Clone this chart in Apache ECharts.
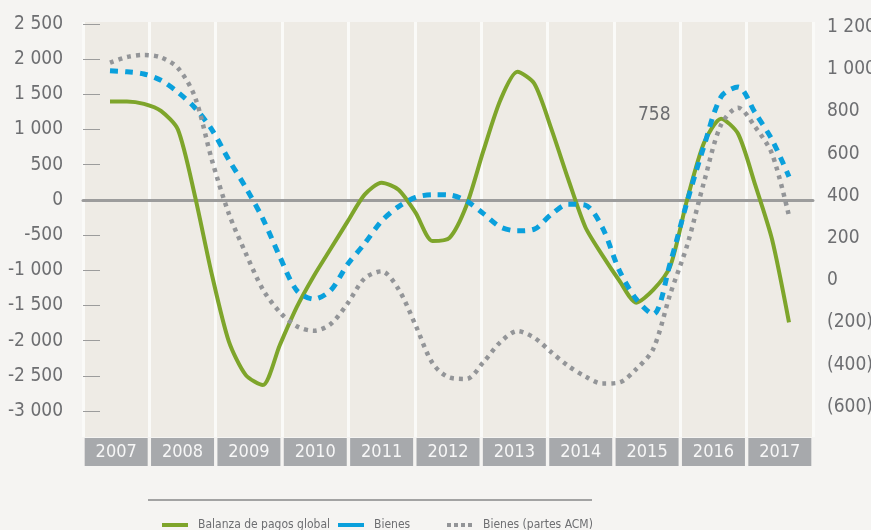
<!DOCTYPE html>
<html>
<head>
<meta charset="utf-8">
<script src="https://cdn.jsdelivr.net/npm/echarts@6/dist/echarts.min.js"></script>
<style>
html,body{margin:0;padding:0;background:#F5F4F2;}
#c{width:871px;height:530px;}
</style>
</head>
<body>
<div id="c"></div>
<script>
// ---- DATA ----
const years = ['2007','2008','2009','2010','2011','2012','2013','2014','2015','2016','2017'];
const quarterNames = ['T1','T2','T3','T4'];
const leftTicks = {min: -3000, max: 2500, step: 500};
const rightTicks = {min: -600, max: 1200, step: 200};
const peakLabel = '758';
const seriesNames = ['Balanza de pagos global', 'Bienes', 'Bienes (partes ACM)'];
// quarterly readings, 2007-T1 .. 2017-T1
const balanzaGlobal = [1400,1400,1365,1265,1000,60,-1060,-2010,-2490,-2630,-2065,-1525,-1085,-695,-305,75,245,145,-180,-585,-540,-80,700,1420,1820,1650,1010,290,-385,-785,-1145,-1460,-1280,-945,5,815,1155,940,220,-560,-1740];
const bienes = [1835,1820,1790,1700,1530,1310,1000,570,175,-265,-805,-1285,-1410,-1285,-915,-620,-300,-95,35,75,70,-15,-195,-385,-440,-415,-205,-60,-75,-390,-1000,-1410,-1625,-900,-25,770,1465,1605,1240,855,330];
const bienesACM = [1950,2030,2060,2025,1875,1465,570,-195,-760,-1270,-1595,-1795,-1860,-1765,-1470,-1115,-1015,-1270,-1780,-2320,-2525,-2545,-2305,-2020,-1865,-1960,-2165,-2360,-2510,-2610,-2595,-2405,-2120,-1340,-645,260,1070,1310,1040,655,-230];

const quarters = [];
years.forEach(function (y, i) {
  if (i < years.length - 1) { quarterNames.forEach(function (q) { quarters.push(y + '-' + q); }); }
  else { quarters.push(y + '-' + quarterNames[0]); }
});

// ---- STYLE ----
const FONT = '"Liberation Sans Narrow", "DejaVu Sans Condensed", "Noto Sans", sans-serif';
const LABEL = '#6D6E71';
const GREEN = '#7EA52B';
const BLUE = '#0AA0DC';
const GREY = '#939598';

function fmtThousands(v) {
  const a = Math.abs(v);
  let s = String(a);
  if (a >= 1000) s = Math.floor(a / 1000) + ' ' + String(a % 1000).padStart(3, '0');
  return s;
}

const chart = echarts.init(document.getElementById('c'), null, {renderer: 'canvas'});
const L = 83, R = 871 - 813;
const OB = {outerBoundsMode: 'none', containLabel: false};
chart.setOption({
  backgroundColor: '#F5F4F2',
  animation: false,
  grid: [
    Object.assign({left: L, right: R, top: 22, height: 415, show: true, backgroundColor: '#EEEBE5', borderWidth: 0}, OB),
    Object.assign({left: L, right: R, top: 24, height: 387}, OB),
    Object.assign({left: L, right: R, top: 27, height: 380}, OB),
    Object.assign({left: 110, right: 82, top: 24, height: 387}, OB)
  ],
  xAxis: [
    {gridIndex: 0, type: 'category', data: years, boundaryGap: true,
      axisLine: {show: false}, axisTick: {show: false},
      splitLine: {show: true, interval: 0, lineStyle: {color: '#FAFAF8', width: 3}},
      axisLabel: {interval: 0, margin: 1, color: '#F7F7F7', fontFamily: FONT, fontSize: 18,
        backgroundColor: '#A7A9AC', width: 63, height: 28, lineHeight: 28, align: 'center', verticalAlign: 'top', padding: 0}},
    {gridIndex: 1, type: 'category', data: years, boundaryGap: true,
      axisLine: {show: true, onZero: true, lineStyle: {color: '#9C9C9C', width: 3}},
      axisTick: {show: false}, axisLabel: {show: false}, splitLine: {show: false}},
    {gridIndex: 2, type: 'category', data: years, show: false},
    {gridIndex: 3, type: 'category', data: quarters, boundaryGap: false, show: false}
  ],
  yAxis: [
    {gridIndex: 0, type: 'value', show: false},
    {gridIndex: 1, type: 'value', min: leftTicks.min, max: leftTicks.max, interval: leftTicks.step,
      axisLine: {show: false}, splitLine: {show: false},
      axisTick: {show: true, inside: true, length: 17, lineStyle: {color: '#9C9C9C', width: 1}},
      axisLabel: {margin: 20, color: LABEL, fontFamily: FONT, fontSize: 19,
        formatter: function (v) { return (v < 0 ? '-' : '') + fmtThousands(v); }}},
    {gridIndex: 2, type: 'value', position: 'right', min: rightTicks.min, max: rightTicks.max, interval: rightTicks.step,
      axisLine: {show: false}, axisTick: {show: false}, splitLine: {show: false},
      axisLabel: {margin: 14, color: LABEL, fontFamily: FONT, fontSize: 19,
        formatter: function (v) { return v < 0 ? '(' + fmtThousands(v) + ')' : fmtThousands(v); }}},
    {gridIndex: 3, type: 'value', min: leftTicks.min, max: leftTicks.max, show: false}
  ],
  legend: [
    {left: 157, top: 514, itemWidth: 26, itemHeight: 4, selectedMode: false,
      textStyle: {fontFamily: FONT, fontSize: 12, color: LABEL, padding: [0, 0, 0, 5]},
      data: [{name: seriesNames[0], icon: 'rect', itemStyle: {color: GREEN}}]},
    {left: 333, top: 514, itemWidth: 26, itemHeight: 4, selectedMode: false,
      textStyle: {fontFamily: FONT, fontSize: 12, color: LABEL, padding: [0, 0, 0, 5]},
      data: [{name: seriesNames[1], icon: 'rect', itemStyle: {color: BLUE}}]},
    {left: 442, top: 514, itemWidth: 27, itemHeight: 4, selectedMode: false,
      textStyle: {fontFamily: FONT, fontSize: 12, color: LABEL, padding: [0, 0, 0, 5]},
      data: [{name: seriesNames[2], icon: 'path://M0,0h4v4h-4z M7,0h4v4h-4z M14,0h4v4h-4z M21,0h4v4h-4z', itemStyle: {color: GREY}}]}
  ],
  graphic: [
    {type: 'line', shape: {x1: 148, y1: 500, x2: 592, y2: 500}, style: {stroke: '#A3A3A3', lineWidth: 2}},
    {type: 'text', left: 638, top: 106, style: {text: peakLabel, fill: LABEL, font: '19px ' + FONT}}
  ],
  series: [
    {name: seriesNames[0], type: 'line', xAxisIndex: 3, yAxisIndex: 3, data: balanzaGlobal,
      symbol: 'none', smooth: 0.25, lineStyle: {color: GREEN, width: 4}, itemStyle: {color: GREEN}, z: 3},
    {name: seriesNames[1], type: 'line', xAxisIndex: 3, yAxisIndex: 3, data: bienes,
      symbol: 'none', smooth: 0.3, lineStyle: {color: BLUE, width: 5, type: [8, 7], cap: 'butt'}, itemStyle: {color: BLUE}, z: 4},
    {name: seriesNames[2], type: 'line', xAxisIndex: 3, yAxisIndex: 3, data: bienesACM,
      symbol: 'none', smooth: 0.3, lineStyle: {color: GREY, width: 4.5, type: [4, 5], cap: 'butt'}, itemStyle: {color: GREY}, z: 5}
  ]
});
</script>
</body>
</html>
